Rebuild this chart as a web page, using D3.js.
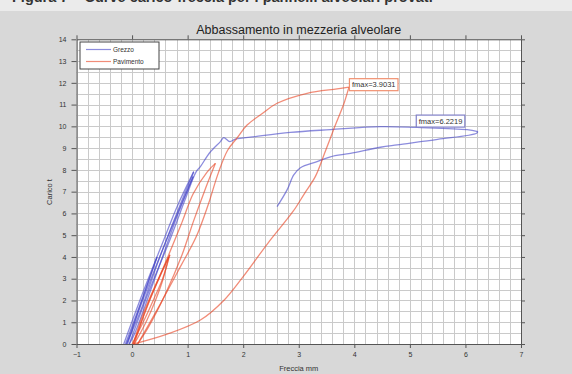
<!DOCTYPE html>
<html>
<head>
<meta charset="utf-8">
<script src="https://cdn.jsdelivr.net/npm/d3@7"></script>
<style>
  body { margin: 0; background: #d8d8d8; }
  svg { display: block; font-family: "Liberation Sans", Arial, sans-serif; }
</style>
</head>
<body>
<div id="chart"></div>
<script>
// tick values
var xTicks = d3.range(-1, 8);
var yTicks = d3.range(0, 15);

// Grezzo (blue) - loading / unloading cycles, [freccia mm, carico t]
var grezzoCiclo0 = [[-0.12, 0], [0.2, 2.2], [0.45, 4.0]];
var grezzoScarico0 = [[0.45, 4.0], [0.15, 1.8], [-0.08, 0]];
var grezzoCiclo1 = [[-0.15, 0], [0.2, 2.4], [0.57, 4.78], [0.81, 6.31], [1.11, 7.92]];
var grezzoScarico1 = [[1.11, 7.92], [0.85, 6.3], [0.5, 4.0], [0.15, 1.5], [-0.1, 0]];
var grezzoCiclo2 = [[-0.1, 0], [0.25, 2.4], [0.62, 4.78], [0.9, 6.5], [1.1, 7.7]];
var grezzoScarico2 = [[1.1, 7.7], [0.8, 5.8], [0.45, 3.3], [0.05, 0.5], [-0.05, 0]];
var grezzoRottura = [[-0.05, 0], [0.3, 2.4], [0.68, 4.78], [0.95, 6.6], [1.15, 7.9], [1.23, 8.15],
    [1.4, 8.8], [1.59, 9.3], [1.65, 9.48], [1.76, 9.3], [1.86, 9.41], [2.22, 9.53], [2.85, 9.72],
    [3.57, 9.85], [4.47, 9.99], [5.13, 9.95], [6.03, 9.85], [6.2219, 9.76]];
var grezzoScaricoFinale = [[6.2219, 9.76], [6.2, 9.68], [5.5, 9.4], [4.77, 9.15], [4.47, 9.04],
    [3.93, 8.76], [3.57, 8.6], [3.33, 8.38], [3.03, 8.1], [2.91, 7.77], [2.79, 7.08], [2.61, 6.31]];

// Pavimento (orange/red)
var pavCiclo1 = [[0, 0], [0.2, 1.0], [0.38, 2.0], [0.55, 3.0], [0.68, 4.1]];
var pavScarico1 = [[0.68, 4.1], [0.45, 2.8], [0.25, 1.6], [0.04, 0]];
var pavCiclo2 = [[0.04, 0], [0.25, 1.0], [0.42, 2.0], [0.56, 3.0], [0.66, 4.0]];
var pavScarico2 = [[0.66, 4.0], [0.42, 2.7], [0.2, 1.4], [0.02, 0]];
var pavCiclo3 = [[0.02, 0], [0.3, 1.9], [0.66, 4.1], [0.9, 5.6], [1.1, 6.9], [1.35, 7.9], [1.5, 8.3]];
var pavScarico3 = [[1.5, 8.3], [1.3, 7.0], [1.1, 5.6], [0.9, 4.1], [0.6, 2.3], [0.3, 0.8], [0.1, 0]];
var pavRottura = [[0.1, 0], [0.5, 1.8], [0.88, 3.6], [1.15, 4.9], [1.37, 6.4], [1.55, 7.84],
    [1.72, 8.9], [1.9, 9.5], [2.07, 10.06], [2.35, 10.6], [2.61, 11.06], [3.15, 11.52],
    [3.69, 11.72], [3.9031, 11.8]];
var pavScaricoFinale = [[3.9031, 11.8], [3.82, 11.1], [3.65, 10.0], [3.47, 8.8], [3.3, 7.7],
    [3.1, 6.9], [2.9, 6.1], [2.45, 4.65], [2.0, 3.1], [1.65, 2.0], [1.23, 1.1], [0.63, 0.45], [0.03, 0]];

var grezzoSeries = [grezzoCiclo0, grezzoScarico0, grezzoCiclo1, grezzoScarico1, grezzoCiclo2,
    grezzoScarico2, grezzoRottura, grezzoScaricoFinale];
var pavSeries = [pavCiclo1, pavScarico1, pavCiclo2, pavScarico2, pavCiclo3, pavScarico3,
    pavRottura, pavScaricoFinale];

// max deflection markers
var fmaxPav = [3.9031, 11.8];
var fmaxGrezzo = [6.2219, 9.76];

var W = 572, H = 374;
var blue = "#4646c8", red = "#e8401e";

var svg = d3.select("#chart").append("svg")
    .attr("width", W)
    .attr("height", H);

// caption strip at the top (cut off in the original)
svg.append("rect").attr("x", 0).attr("y", 0).attr("width", W).attr("height", 11).attr("fill", "#ebebeb");
svg.append("text")
    .attr("x", 12).attr("y", 2)
    .attr("font-size", 14.5).attr("font-weight", "bold").attr("fill", "#333")
    .text("Figura 7 – Curve carico-freccia per i pannelli alveolari provati");

var x = d3.scaleLinear().domain([-1, 7]).range([76.5, 521]);
var y = d3.scaleLinear().domain([0, 14]).range([344, 39.3]);

// plot background
svg.append("rect")
    .attr("x", x(-1)).attr("y", y(14))
    .attr("width", x(7) - x(-1)).attr("height", y(0) - y(14))
    .attr("fill", "#fff");

// grid
var g = svg.append("g").attr("stroke", "#cacaca").attr("stroke-width", 1);
g.selectAll(".gx").data(d3.range(-1, 7.01, 0.2)).enter().append("line")
    .attr("x1", function(d) { return Math.round(x(d)) + 0.5; })
    .attr("x2", function(d) { return Math.round(x(d)) + 0.5; })
    .attr("y1", y(14)).attr("y2", y(0));
g.selectAll(".gy").data(d3.range(0, 14.01, 0.5)).enter().append("line")
    .attr("y1", function(d) { return Math.round(y(d)) + 0.5; })
    .attr("y2", function(d) { return Math.round(y(d)) + 0.5; })
    .attr("x1", x(-1)).attr("x2", x(7));

// axes
function styleAxis(sel) {
    sel.selectAll("path").attr("stroke", "#555");
    sel.selectAll("line").attr("stroke", "#555");
    sel.selectAll("text").attr("fill", "#333").attr("font-size", 7);
}
svg.append("g").attr("transform", "translate(0," + y(0) + ")")
    .call(d3.axisBottom(x).tickValues(xTicks).tickSize(4).tickSizeOuter(0).tickPadding(4))
    .call(styleAxis);
svg.append("g").attr("transform", "translate(" + x(-1) + ",0)")
    .call(d3.axisLeft(y).tickValues(yTicks).tickSize(5).tickSizeOuter(0).tickPadding(5))
    .call(styleAxis);
svg.append("g").attr("transform", "translate(0," + y(14) + ")")
    .call(d3.axisTop(x).tickValues(xTicks).tickSize(4).tickSizeOuter(0).tickFormat(""))
    .call(styleAxis);
svg.append("g").attr("transform", "translate(" + x(7) + ",0)")
    .call(d3.axisRight(y).tickValues(yTicks).tickSize(4).tickSizeOuter(0).tickFormat(""))
    .call(styleAxis);

// curves
var line = d3.line()
    .x(function(d) { return x(d[0]); })
    .y(function(d) { return y(d[1]); })
    .curve(d3.curveCatmullRom);

svg.append("g").selectAll("path").data(grezzoSeries).enter().append("path")
    .attr("d", line).attr("fill", "none")
    .attr("stroke", blue).attr("stroke-opacity", 0.62).attr("stroke-width", 1.3);
svg.append("g").selectAll("path").data(pavSeries).enter().append("path")
    .attr("d", line).attr("fill", "none")
    .attr("stroke", red).attr("stroke-opacity", 0.6).attr("stroke-width", 1.3);

// fmax labels
function fmaxBox(px, py, txt, col) {
    var box = svg.append("g");
    var r = box.append("rect");
    var t = box.append("text")
        .attr("x", px + 3).attr("y", py + 10)
        .attr("font-size", 7.5).attr("fill", "#333")
        .text(txt);
    var bb = t.node().getBBox();
    r.attr("x", bb.x - 2.5).attr("y", bb.y - 1.5)
        .attr("width", bb.width + 5).attr("height", bb.height + 3)
        .attr("fill", "#fff").attr("stroke", col).attr("stroke-width", 1.2);
}
fmaxBox(x(fmaxPav[0]), y(fmaxPav[1]) - 10, "fmax=" + fmaxPav[0], "#f09070");
fmaxBox(x(fmaxGrezzo[0]) - 62, y(fmaxGrezzo[1]) - 18, "fmax=" + fmaxGrezzo[0], "#8080c8");

// legend
var leg = svg.append("g").attr("transform", "translate(80,42)");
leg.append("rect").attr("width", 79).attr("height", 27)
    .attr("fill", "#fff").attr("stroke", "#444").attr("stroke-width", 1);
[["Grezzo", blue, 0.62], ["Pavimento", red, 0.6]].forEach(function(d, i) {
    leg.append("line").attr("x1", 6).attr("x2", 31)
        .attr("y1", 7.5 + i * 12).attr("y2", 7.5 + i * 12)
        .attr("stroke", d[1]).attr("stroke-opacity", d[2]).attr("stroke-width", 1.2);
    leg.append("text").attr("x", 33).attr("y", 10 + i * 12)
        .attr("font-size", 6.5).attr("fill", "#333").text(d[0]);
});

// titles
svg.append("text").attr("x", (x(-1) + x(7)) / 2).attr("y", 34)
    .attr("text-anchor", "middle").attr("font-size", 12.5).attr("fill", "#222")
    .text("Abbassamento in mezzeria alveolare");
svg.append("text").attr("x", (x(-1) + x(7)) / 2).attr("y", 371)
    .attr("text-anchor", "middle").attr("font-size", 7.5).attr("fill", "#333")
    .text("Freccia mm");
svg.append("text").attr("transform", "translate(52,192) rotate(-90)")
    .attr("text-anchor", "middle").attr("font-size", 7.5).attr("fill", "#333")
    .text("Carico t");
</script>
</body>
</html>
